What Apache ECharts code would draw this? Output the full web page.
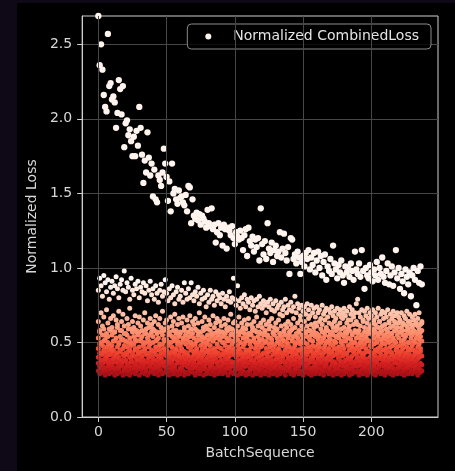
<!DOCTYPE html>
<html><head><meta charset="utf-8">
<script src="https://cdn.jsdelivr.net/npm/echarts@6/dist/echarts.min.js"></script>
<style>
html,body{margin:0;padding:0;background:#0f0817;width:455px;height:471px;overflow:hidden}
#c{position:absolute;left:17px;top:3px;width:438px;height:468px;background:#000}
</style></head><body><div id="c"></div>
<script>
// Normalized combined loss, one value per batch (0..237)
const combinedLoss = [
2.69,2.36,2.50,2.33,2.16,2.08,2.05,2.57,2.22,2.24,
2.13,2.15,2.11,1.94,2.04,2.26,2.20,2.03,2.22,1.81,
1.97,1.99,1.89,1.93,1.85,1.75,1.88,1.75,1.92,1.82,
2.08,1.94,1.76,1.57,1.72,1.64,1.91,1.74,1.62,1.70,
1.48,1.66,1.46,1.44,1.62,1.59,1.55,1.64,1.80,1.70,
1.61,1.45,1.58,1.38,1.70,1.50,1.53,1.46,1.43,1.52,
1.47,1.48,1.44,1.42,1.49,1.38,1.55,1.54,1.30,1.46,
1.35,1.33,1.37,1.32,1.36,1.29,1.35,1.33,1.31,1.27,
1.39,1.30,1.28,1.40,1.26,1.29,1.17,1.24,1.30,1.22,
1.27,1.15,1.29,1.26,1.13,1.27,1.25,1.22,1.28,1.20,
1.16,1.24,1.21,1.19,1.25,1.20,1.12,1.22,1.26,1.08,
1.27,1.18,1.15,1.21,1.11,1.19,1.14,1.20,1.05,1.40,
1.16,1.09,1.18,1.06,1.30,1.13,1.10,1.17,1.04,1.12,
1.15,1.08,1.11,1.24,1.07,1.13,1.23,1.10,1.05,1.14,
0.96,1.20,1.19,1.06,1.09,1.03,1.11,1.07,0.96,1.04,
1.08,1.01,1.10,1.06,1.12,0.99,1.07,1.02,1.10,0.97,
1.05,1.11,1.00,1.08,0.95,1.04,1.09,0.92,1.01,0.98,
1.06,0.96,1.15,1.03,0.99,0.93,1.02,0.97,1.05,0.95,
0.90,1.01,0.97,1.00,0.94,1.03,0.98,0.92,1.11,0.99,
0.96,1.03,0.94,1.12,0.98,0.86,1.00,0.95,0.93,1.02,
0.97,0.91,0.99,0.95,1.04,0.92,1.00,0.96,1.07,0.94,
0.90,0.98,1.03,0.89,0.95,1.01,0.88,0.97,1.12,0.93,
1.00,0.86,0.96,0.91,0.83,0.99,0.94,0.89,0.97,0.81,
0.95,1.00,0.92,0.75,0.98,0.90,1.01,0.89
];
// Component losses (hundredths), one value per batch each
const lossTier1 = [
85,93,88,81,95,90,84,92,79,87, 91,83,88,94,86,80,89,92,85,98,
84,90,87,79,93,85,82,89,86,91, 80,87,84,90,83,88,78,85,91,82,
86,79,88,83,77,85,89,81,84,92, 83,78,86,80,88,82,76,84,87,79,
81,85,77,90,83,79,86,80,90,82, 78,84,81,87,76,83,79,85,80,74,
82,77,85,79,81,75,84,78,82,80, 76,83,79,74,81,78,84,77,80,93,
79,75,88,78,73,80,76,82,74,79, 77,72,80,75,78,71,79,74,81,76,
73,78,75,70,77,74,79,72,76,71, 78,73,75,69,77,72,74,79,70,75,
72,77,71,74,81,70,76,73,68,75, 71,74,69,76,72,68,75,70,73,67,
74,70,72,66,75,69,71,73,67,72, 70,74,68,71,66,73,69,72,67,70,
73,68,71,65,74,69,72,67,70,76, 79,70,67,72,65,71,68,73,66,70,
68,72,65,70,67,73,64,69,71,66, 70,67,72,64,69,66,71,68,63,70,
67,65,70,63,68,66,71,64,69,62, 67,65,69,63,66,70,62,64
];
const lossTier2 = [
64,58,70,61,67,55,72,63,59,66, 60,68,57,65,62,71,58,64,69,61,
56,66,62,73,59,64,60,68,57,63, 67,61,58,65,70,56,63,60,66,62,
59,64,68,57,62,66,60,71,58,63, 65,60,56,67,61,64,69,58,62,66,
57,63,67,60,55,65,61,68,59,64, 62,66,58,63,70,57,64,60,67,61,
59,65,62,56,68,60,63,66,58,64, 61,57,66,62,59,65,60,69,56,63,
64,58,61,67,57,63,60,65,59,62, 66,56,62,60,64,58,67,61,57,63,
60,65,58,62,55,64,61,66,57,60, 63,59,65,56,61,68,58,62,60,64,
57,62,59,66,60,55,63,58,65,61, 59,64,57,61,66,58,62,56,60,63,
61,55,64,59,62,57,65,60,58,63, 56,62,60,64,58,61,55,63,59,66,
60,57,63,59,61,65,56,62,58,64, 62,58,61,55,64,60,57,63,59,61,
57,63,59,62,56,60,64,58,61,55, 62,59,57,63,60,56,61,64,58,60,
63,57,60,58,62,55,61,59,64,57, 60,58,62,56,61,59,57,63
];
const lossTier3 = [
53,57,50,55,59,52,56,54,49,58, 55,51,57,53,60,50,54,58,52,56,
51,55,59,53,50,57,54,52,58,55, 57,52,54,50,56,59,53,51,55,57,
54,58,51,56,53,49,57,55,52,59, 52,55,57,50,54,58,53,56,51,54,
56,50,53,58,55,52,57,54,50,56, 53,59,51,55,57,52,54,58,53,50,
55,52,58,54,51,56,53,57,55,52, 57,54,50,56,53,58,52,55,59,51,
54,57,52,55,50,58,53,56,51,54, 56,51,55,58,53,50,57,54,52,56,
52,55,57,51,54,59,53,50,56,55, 58,53,51,56,54,52,57,55,50,53,
55,58,52,54,50,56,53,57,51,55, 53,50,56,54,58,52,55,51,57,54,
56,52,54,50,57,53,55,58,51,54, 52,57,55,51,54,59,53,56,50,55,
54,51,56,53,58,52,55,50,57,53, 56,53,50,55,52,57,54,51,56,58,
51,55,53,57,50,54,56,52,58,53, 55,52,57,54,51,56,53,58,50,55,
53,57,51,55,52,54,58,50,56,53, 55,51,57,53,56,52,54,58
];
const lossTier4 = [
46,49,43,48,51,44,47,50,42,46, 48,45,51,43,47,49,44,52,46,48,
43,47,50,45,48,42,49,46,51,44, 47,51,44,48,46,50,43,47,49,45,
50,44,47,52,45,48,43,49,46,51, 45,48,50,43,47,51,44,46,49,42,
48,46,51,44,49,43,47,50,45,48, 44,49,46,52,43,48,45,50,47,44,
49,45,48,43,51,46,44,49,47,52, 46,50,43,48,45,51,47,44,49,46,
51,44,48,46,50,43,47,49,45,52, 45,49,47,43,51,46,48,44,50,47,
48,43,50,46,44,49,47,52,45,48, 44,50,46,49,43,48,51,45,47,49,
47,44,51,46,48,43,50,45,49,46, 50,46,44,49,47,52,45,48,43,47,
45,49,47,43,51,46,48,50,44,46, 49,44,48,46,50,43,47,45,51,48,
46,51,43,48,45,49,47,44,50,46, 48,45,50,47,43,49,46,52,44,48,
47,43,49,45,51,46,44,48,50,45, 49,46,44,50,47,43,48,51,45,47,
44,48,51,46,49,43,47,45,50,46, 48,45,50,44,47,49,46,51
];
const lossTier5 = [
40,43,38,42,45,39,41,44,37,42, 44,39,41,37,43,40,45,38,42,41,
38,42,44,40,37,43,41,45,39,42, 43,39,41,38,44,42,37,40,43,41,
39,44,42,38,41,45,40,37,43,42, 41,38,43,40,44,39,42,45,38,41,
44,40,37,42,39,43,41,38,45,40, 42,39,44,41,37,43,40,42,38,44,
40,43,38,41,45,39,42,37,43,41, 38,42,44,40,39,43,41,45,37,42,
43,40,38,42,44,39,41,37,43,40, 41,44,39,42,38,43,40,45,41,38,
42,39,43,37,41,44,40,38,42,45, 39,42,40,44,38,41,43,37,42,40,
44,38,41,43,39,42,45,40,37,43, 41,43,39,42,44,38,40,43,41,37,
42,40,44,38,41,43,39,45,40,42, 39,43,41,37,42,44,40,38,43,41,
43,38,42,40,45,39,41,44,37,42, 40,44,38,42,41,43,39,37,44,40,
42,39,43,41,38,44,40,42,45,39, 41,43,38,40,44,42,39,41,37,43,
40,42,44,39,41,38,43,40,42,45, 39,41,43,38,42,40,44,41
];
const lossTier6 = [
36,34,38,35,33,37,39,34,36,38, 35,37,33,39,36,34,38,35,37,33,
38,35,36,34,39,37,33,36,35,38, 34,37,39,35,36,33,38,37,34,36,
37,33,35,38,34,36,39,35,37,34, 35,38,36,33,37,35,34,39,36,38,
33,36,38,35,37,34,36,33,38,35, 37,34,35,39,33,36,38,35,34,37,
36,38,34,35,37,33,39,36,35,34, 38,35,37,33,36,39,34,37,35,36,
34,37,35,38,33,36,35,39,34,37, 36,33,38,35,37,34,36,33,38,35,
37,35,34,39,36,33,38,35,37,34, 35,38,36,34,37,39,33,36,35,38,
34,36,38,35,33,37,35,34,39,36, 37,34,35,38,36,33,37,39,34,36,
35,38,33,36,37,35,34,36,38,33, 38,35,37,34,36,33,39,35,37,34,
36,34,38,35,33,37,36,34,35,38, 34,37,35,39,36,34,38,35,33,37,
35,38,34,36,37,33,35,39,36,34, 37,35,36,34,38,35,33,37,36,39,
34,36,38,35,33,37,34,36,38,35, 36,34,37,35,39,33,36,35
];
const lossTier7 = [
31,29,33,30,32,28,31,34,29,32, 30,33,28,31,29,32,34,30,28,31,
33,29,31,28,32,30,34,29,31,33, 28,32,30,33,29,31,28,34,30,32,
31,29,33,30,28,32,31,29,34,30, 32,30,28,33,31,29,32,30,28,31,
29,33,31,28,30,34,29,32,31,30, 33,28,30,32,29,31,33,28,32,29,
30,32,29,34,31,28,30,33,29,31, 32,29,31,30,33,28,32,30,34,29,
31,33,28,32,30,29,31,34,28,30, 29,31,33,28,32,30,29,33,31,28,
32,30,29,31,34,28,30,32,29,33, 30,28,32,29,31,33,30,28,32,31,
33,29,31,28,30,32,34,29,31,30, 28,32,30,33,29,31,28,30,32,29,
31,33,29,30,32,28,31,34,30,29, 32,30,28,31,33,29,32,30,28,31,
29,31,33,30,28,32,29,31,34,30, 31,28,30,32,29,33,31,28,30,32,
33,29,31,28,32,30,34,29,31,30, 28,32,30,33,29,31,28,30,32,29,
30,33,29,31,28,32,30,29,33,31, 29,31,33,30,28,32,30,31
];
const xTicks = [0, 50, 100, 150, 200];
const yTicks = [0, 0.5, 1.0, 1.5, 2.0, 2.5];

const combinedData = combinedLoss.map((v, i) => [i, v]);
const cloudData = [];
[lossTier7, lossTier6, lossTier5, lossTier4, lossTier3, lossTier2, lossTier1].forEach(arr => {
  arr.forEach((v, i) => cloudData.push([i, v / 100]));
});

const txt = '#d8d8d8', frame = '#d0d0d0', gridc = '#474747';
const FS = 14;
const chart = echarts.init(document.getElementById('c'), null, {renderer: 'canvas'});
chart.setOption({
  backgroundColor: '#000',
  animation: false,
  textStyle: {fontFamily: 'DejaVu Sans'},
  grid: {left: 65, right: 17, top: 13, bottom: 54, show: true, borderColor: frame, borderWidth: 1, backgroundColor: '#000'},
  xAxis: {
    type: 'value', min: -11.85, max: 248.85,
    name: 'BatchSequence', nameLocation: 'middle', nameGap: 29,
    nameTextStyle: {color: txt, fontSize: FS},
    axisLine: {show: true, onZero: false, lineStyle: {color: frame}},
    axisTick: {show: true, length: 5, customValues: xTicks, lineStyle: {color: frame}},
    axisLabel: {customValues: xTicks, color: txt, fontSize: FS, margin: 8},
    splitLine: {show: false}
  },
  yAxis: {
    type: 'value', min: 0, max: 2.69, interval: 0.5,
    name: 'Normalized Loss', nameLocation: 'middle', nameGap: 37,
    nameTextStyle: {color: txt, fontSize: FS},
    axisLine: {show: true, onZero: false, lineStyle: {color: frame}},
    axisTick: {show: true, length: 5, customValues: yTicks, lineStyle: {color: frame}},
    axisLabel: {customValues: yTicks, color: txt, fontSize: FS, margin: 10, formatter: v => Number(v).toFixed(1)},
    splitLine: {show: true, lineStyle: {color: gridc, width: 1}}
  },
  visualMap: {
    type: 'continuous', show: false, seriesIndex: 2, dimension: 1, min: 0.28, max: 0.92,
    inRange: {color: ['#a50f15', '#d42020', '#f14632', '#fb7757', '#fc9f80', '#fcbfa6', '#fdd5c4', '#fee6da', '#fff5f0']}
  },
  legend: {
    data: [{name: 'Normalized CombinedLoss', icon: 'circle'}],
    right: 24, top: 21, itemWidth: 10, itemHeight: 6,
    padding: [4, 12, 4, 18], borderColor: '#8a8a8a', borderWidth: 1, borderRadius: 4,
    backgroundColor: 'rgba(0,0,0,0.8)',
    textStyle: {color: '#e4e4e4', fontSize: FS, lineHeight: 17, padding: [0, 0, 0, 15]}
  },
  series: [
    {
      name: 'grid', type: 'scatter', data: [], z: 1, silent: true,
      markLine: {silent: true, symbol: 'none', label: {show: false}, animation: false,
        lineStyle: {color: gridc, type: 'solid', width: 1},
        data: xTicks.map(v => ({xAxis: v}))}
    },
    {
      name: 'Normalized CombinedLoss', type: 'scatter', data: combinedData, symbolSize: 6.3, z: 3,
      itemStyle: {color: '#fff3ee', opacity: 1}
    },
    {
      name: 'components', type: 'scatter', data: cloudData, symbolSize: 5, z: 2,
      itemStyle: {opacity: 1}
    }
  ]
});
</script></body></html>
